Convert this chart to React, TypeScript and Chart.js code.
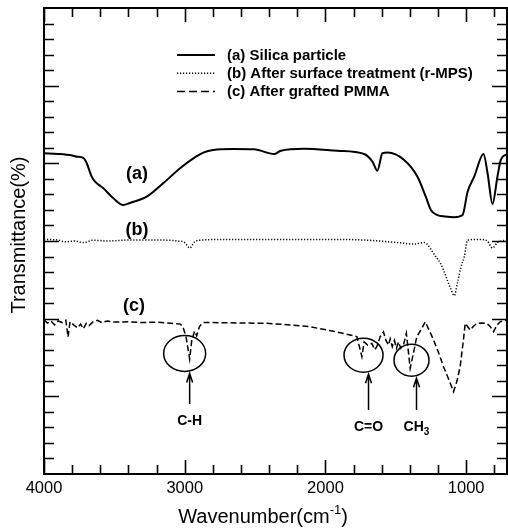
import React, { useEffect, useRef } from 'react';
import { Chart, registerables } from 'chart.js';

Chart.register(...registerables);

// ---------------- data ----------------
const seriesNames = [
  '(a) Silica particle',
  '(b) After surface treatment (r-MPS)',
  '(c) After grafted PMMA',
];
const curveTags = ['(a)', '(b)', '(c)'];
const curveTagWavenumbers = [3339, 3339, 3360];
const curveTagLevels = [19.31, 15.71, 10.81];

const xTickLabels = [4000, 3000, 2000, 1000];

const wnA = [4000, 3900, 3800, 3768, 3721, 3697, 3661, 3637, 3580, 3509, 3437, 3389, 3270, 3154, 3033, 2939, 2868, 2798, 2654, 2507, 2365, 2317, 2152, 1915, 1725, 1666, 1631, 1595, 1559, 1441, 1346, 1287, 1251, 1204, 1150, 1085, 1026, 990, 943, 877, 848, 813, 778, 754, 710];
const tA = [20.65, 20.6, 20.5, 20.43, 20.35, 20.02, 19.14, 18.82, 18.41, 17.77, 17.32, 17.45, 17.85, 18.71, 19.68, 20.32, 20.69, 20.86, 20.92, 20.9, 20.6, 20.81, 20.94, 20.81, 20.6, 20.11, 19.53, 20.65, 20.69, 20.22, 19.14, 17.85, 17.0, 16.67, 16.58, 16.53, 16.67, 18.17, 19.14, 20.6, 19.36, 17.38, 19.14, 20.22, 20.6];

const wnB = [4000, 3900, 3850, 3780, 3720, 3650, 3550, 3400, 3200, 3050, 3000, 2965, 2930, 2880, 2700, 2500, 2300, 2100, 1900, 1700, 1490, 1370, 1299, 1216, 1180, 1109, 1085, 1060, 1038, 1014, 990, 900, 850, 813, 778, 710];
const tB = [15.1, 15.06, 14.95, 15.0, 14.9, 15.05, 15.0, 15.06, 15.06, 15.0, 14.9, 14.55, 14.95, 15.06, 15.1, 15.1, 15.1, 15.1, 15.1, 15.05, 14.9, 14.8, 14.9, 13.99, 13.52, 11.91, 11.48, 12.4, 13.3, 13.99, 15.06, 15.1, 15.0, 14.55, 14.9, 15.06];

const wnC = [4000, 3975, 3950, 3925, 3900, 3870, 3845, 3829, 3815, 3790, 3760, 3740, 3720, 3700, 3680, 3650, 3620, 3590, 3550, 3500, 3400, 3300, 3200, 3100, 3030, 3010, 2990, 2965, 2950, 2930, 2915, 2895, 2870, 2800, 2600, 2417, 2250, 2109, 1950, 1825, 1777, 1741, 1725, 1700, 1670, 1650, 1635, 1611, 1588, 1570, 1552, 1540, 1525, 1510, 1495, 1481, 1465, 1446, 1425, 1398, 1375, 1351, 1320, 1291, 1260, 1232, 1200, 1161, 1120, 1090, 1065, 1043, 1020, 1007, 990, 971, 950, 924, 890, 853, 830, 806, 780, 758, 735, 710];
const tC = [9.91, 9.72, 9.85, 9.6, 9.85, 9.75, 9.9, 8.82, 9.8, 9.6, 9.4, 9.65, 9.35, 9.7, 9.55, 9.8, 9.9, 9.75, 9.85, 9.78, 9.8, 9.75, 9.78, 9.7, 9.65, 9.4, 8.8, 7.4, 8.6, 9.2, 8.9, 9.5, 9.75, 9.75, 9.72, 9.7, 9.6, 9.48, 9.2, 8.95, 8.85, 7.55, 8.5, 8.3, 8.41, 8.0, 8.2, 8.84, 9.16, 8.6, 8.3, 8.7, 8.2, 8.6, 8.1, 8.5, 8.1, 8.3, 9.06, 6.8, 7.77, 8.84, 9.3, 9.8, 9.2, 8.63, 7.9, 6.91, 6.0, 5.3, 6.0, 6.91, 8.6, 9.7, 9.5, 9.27, 9.5, 9.7, 9.72, 9.7, 9.5, 9.16, 9.6, 9.8, 9.85, 9.9];

// band annotations (C-H, C=O, CH3)
const bandNames = ['C-H', 'C=O', 'CH'];
const bandSubscripts = ['', '', '3'];
const bandWavenumbers = [2965, 1694, 1353];
const bandCircleLevels = [7.76, 7.65, 7.33];
const bandLabelLevels = [3.41, 3.03, 3.03];

// ---------------- styling ----------------
const FONT = "'Liberation Sans', Arial, Helvetica, sans-serif";
const circleRadii = [
  [21, 18],
  [19.5, 17],
  [17.5, 16],
];
const lineDashes = [[], [1.2, 1.8], [6, 3]];
const lineWidths = [2, 1.5, 1.5];
const lineModes = ['monotone', 'monotone', 'default'];
const legendDashes = [[], [1.2, 1.8], [8, 4]];

const toPts = (xs: number[], ys: number[]) => xs.map((v, i) => ({ x: v, y: ys[i] }));

const overlayPlugin = {
  id: 'overlay',
  afterDraw(chart: any) {
    const { ctx, chartArea: a, scales } = chart;
    const xs = scales.x;
    const ys = scales.y;
    ctx.save();
    ctx.strokeStyle = '#000';
    ctx.fillStyle = '#000';
    ctx.setLineDash([]);

    // inward tick marks
    ctx.lineWidth = 1.6;
    ctx.beginPath();
    for (let v = 800; v <= 4000; v += 200) {
      const px = Math.round(xs.getPixelForValue(v)) + 0.5;
      const len = v % 1000 === 0 ? 14 : 9;
      ctx.moveTo(px, a.bottom);
      ctx.lineTo(px, a.bottom - len);
      ctx.moveTo(px, a.top);
      ctx.lineTo(px, a.top + len);
    }
    for (let v = 1; v < 30; v += 1) {
      const py = Math.round(ys.getPixelForValue(v)) + 0.5;
      const len = v % 5 === 0 ? 15 : 10;
      ctx.moveTo(a.left, py);
      ctx.lineTo(a.left + len, py);
      ctx.moveTo(a.right, py);
      ctx.lineTo(a.right - len, py);
    }
    ctx.stroke();

    // frame
    ctx.lineWidth = 2;
    ctx.strokeRect(a.left, a.top, a.right - a.left, a.bottom - a.top);

    // axis titles
    ctx.textAlign = 'center';
    ctx.textBaseline = 'middle';
    ctx.font = `20px ${FONT}`;
    ctx.save();
    ctx.translate(19, 235);
    ctx.rotate(-Math.PI / 2);
    ctx.fillText('Transmittance(%)', 0, 0);
    ctx.restore();

    const main = 'Wavenumber(cm';
    const sup = '-1';
    ctx.font = `20px ${FONT}`;
    const wMain = ctx.measureText(main).width;
    const wClose = ctx.measureText(')').width;
    ctx.font = `13px ${FONT}`;
    const wSup = ctx.measureText(sup).width;
    const total = wMain + wSup + wClose;
    let sx = 263 - total / 2;
    const base = 523;
    ctx.textAlign = 'left';
    ctx.textBaseline = 'alphabetic';
    ctx.font = `20px ${FONT}`;
    ctx.fillText(main, sx, base);
    sx += wMain;
    ctx.font = `13px ${FONT}`;
    ctx.fillText(sup, sx, base - 9);
    sx += wSup;
    ctx.font = `20px ${FONT}`;
    ctx.fillText(')', sx, base);

    // legend
    ctx.font = `bold 15px ${FONT}`;
    ctx.textBaseline = 'middle';
    seriesNames.forEach((name, i) => {
      const ly = 55 + i * 18.3;
      ctx.beginPath();
      ctx.lineWidth = lineWidths[i];
      ctx.setLineDash(legendDashes[i]);
      ctx.moveTo(177, ly);
      ctx.lineTo(215, ly);
      ctx.stroke();
      ctx.setLineDash([]);
      ctx.fillText(name, 227, ly + 0.5);
    });

    // curve tags
    ctx.font = `bold 18px ${FONT}`;
    ctx.textAlign = 'center';
    curveTags.forEach((t, i) => {
      ctx.fillText(t, xs.getPixelForValue(curveTagWavenumbers[i]), ys.getPixelForValue(curveTagLevels[i]));
    });

    // band annotations
    bandNames.forEach((name, i) => {
      const ax = xs.getPixelForValue(bandWavenumbers[i]);
      const cx = ax - 5;
      const cy = ys.getPixelForValue(bandCircleLevels[i]);
      const [rx, ry] = circleRadii[i];
      ctx.lineWidth = 1.5;
      ctx.beginPath();
      ctx.ellipse(cx, cy, rx, ry, 0, 0, Math.PI * 2);
      ctx.stroke();
      const ly = ys.getPixelForValue(bandLabelLevels[i]);
      const top = cy + ry + 2;
      const bottom = ly - 17;
      ctx.beginPath();
      ctx.moveTo(ax, bottom);
      ctx.lineTo(ax, top);
      ctx.moveTo(ax - 3, top + 9);
      ctx.lineTo(ax, top);
      ctx.lineTo(ax + 3, top + 9);
      ctx.stroke();
      ctx.font = `bold 14px ${FONT}`;
      ctx.textBaseline = 'middle';
      const sub = bandSubscripts[i];
      const wn = ctx.measureText(name).width;
      ctx.font = `bold 10px ${FONT}`;
      const ws = sub ? ctx.measureText(sub).width : 0;
      const start = ax - (wn + ws) / 2;
      ctx.textAlign = 'left';
      ctx.font = `bold 14px ${FONT}`;
      ctx.fillText(name, start, ly);
      if (sub) {
        ctx.font = `bold 10px ${FONT}`;
        ctx.fillText(sub, start + wn, ly + 5);
      }
    });
    ctx.restore();
  },
};

export default function App() {
  const ref = useRef<HTMLCanvasElement | null>(null);
  useEffect(() => {
    if (!ref.current) return;
    const chart = new Chart(ref.current, {
      type: 'line',
      data: {
        datasets: [
          { label: seriesNames[0], data: toPts(wnA, tA) },
          { label: seriesNames[1], data: toPts(wnB, tB) },
          { label: seriesNames[2], data: toPts(wnC, tC) },
        ].map((d, i) => ({
          ...d,
          borderColor: '#000',
          borderWidth: lineWidths[i],
          borderDash: lineDashes[i],
          cubicInterpolationMode: lineModes[i],
          pointRadius: 0,
          tension: 0,
          fill: false,
        })),
      },
      options: {
        animation: false,
        responsive: false,
        maintainAspectRatio: false,
        layout: { padding: { top: 8, right: 1, left: 0, bottom: 0 } },
        plugins: { legend: { display: false }, tooltip: { enabled: false } },
        scales: {
          x: {
            type: 'linear',
            reverse: true,
            min: 710,
            max: 4000,
            position: 'bottom',
            afterBuildTicks: (s: any) => {
              s.ticks = xTickLabels.map((v) => ({ value: v }));
            },
            afterFit: (s: any) => {
              s.height = 55;
            },
            grid: { display: false, drawTicks: false },
            border: { display: false },
            ticks: {
              color: '#000',
              font: { family: FONT, size: 16.5 },
              padding: 5,
              maxRotation: 0,
              autoSkip: false,
              callback: (v: any) => String(v),
            },
          },
          y: {
            type: 'linear',
            min: 0,
            max: 30,
            afterFit: (s: any) => {
              s.width = 44;
            },
            grid: { display: false, drawTicks: false },
            border: { display: false },
            ticks: { display: false },
          },
        },
      },
      plugins: [overlayPlugin],
    } as any);
    return () => chart.destroy();
  }, []);
  return (
    <div style={{ position: 'absolute', left: 0, top: 0, width: 508, height: 529, background: '#fff' }}>
      <canvas ref={ref} width={508} height={529} style={{ display: 'block', width: 508, height: 529 }} />
    </div>
  );
}
